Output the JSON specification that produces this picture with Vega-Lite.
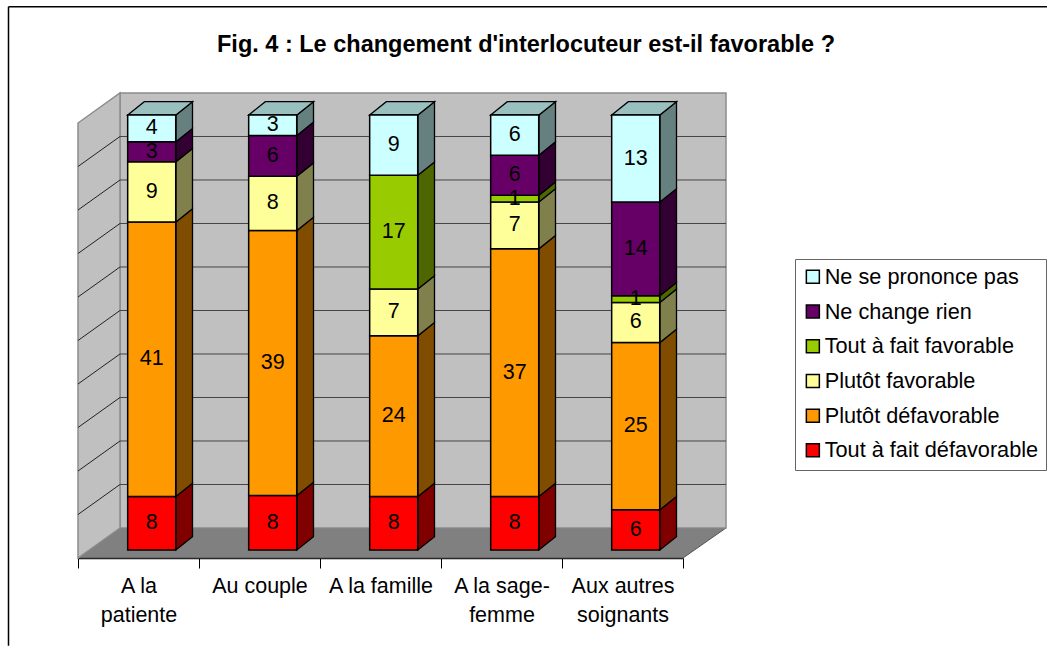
{"$schema":"https://vega.github.io/schema/vega-lite/v6.json","width":648,"height":465,"autosize":"none","padding":{"left":78,"right":321,"top":93,"bottom":88},"background":"white","config":{"view":{"stroke":null},"font":"Liberation Sans"},"title":{"text":"Fig. 4 : Le changement d'interlocuteur est-il favorable ?","font":"Liberation Sans","fontSize":23.5,"fontWeight":"bold","color":"black","anchor":"start","frame":"group","dx":139,"offset":-51},"datasets":{"rep":[{"categorie":"A la patiente","reponse":"Tout à fait défavorable","n":8},{"categorie":"A la patiente","reponse":"Plutôt défavorable","n":41},{"categorie":"A la patiente","reponse":"Plutôt favorable","n":9},{"categorie":"A la patiente","reponse":"Ne change rien","n":3},{"categorie":"A la patiente","reponse":"Ne se prononce pas","n":4},{"categorie":"Au couple","reponse":"Tout à fait défavorable","n":8},{"categorie":"Au couple","reponse":"Plutôt défavorable","n":39},{"categorie":"Au couple","reponse":"Plutôt favorable","n":8},{"categorie":"Au couple","reponse":"Ne change rien","n":6},{"categorie":"Au couple","reponse":"Ne se prononce pas","n":3},{"categorie":"A la famille","reponse":"Tout à fait défavorable","n":8},{"categorie":"A la famille","reponse":"Plutôt défavorable","n":24},{"categorie":"A la famille","reponse":"Plutôt favorable","n":7},{"categorie":"A la famille","reponse":"Tout à fait favorable","n":17},{"categorie":"A la famille","reponse":"Ne se prononce pas","n":9},{"categorie":"A la sage-femme","reponse":"Tout à fait défavorable","n":8},{"categorie":"A la sage-femme","reponse":"Plutôt défavorable","n":37},{"categorie":"A la sage-femme","reponse":"Plutôt favorable","n":7},{"categorie":"A la sage-femme","reponse":"Tout à fait favorable","n":1},{"categorie":"A la sage-femme","reponse":"Ne change rien","n":6},{"categorie":"A la sage-femme","reponse":"Ne se prononce pas","n":6},{"categorie":"Aux autres soignants","reponse":"Tout à fait défavorable","n":6},{"categorie":"Aux autres soignants","reponse":"Plutôt défavorable","n":25},{"categorie":"Aux autres soignants","reponse":"Plutôt favorable","n":6},{"categorie":"Aux autres soignants","reponse":"Tout à fait favorable","n":1},{"categorie":"Aux autres soignants","reponse":"Ne change rien","n":14},{"categorie":"Aux autres soignants","reponse":"Ne se prononce pas","n":13}],"floor":[{"x":0,"a":-0.0184,"b":-0.0184},{"x":42,"a":-0.0184,"b":0.0506},{"x":605,"a":-0.0184,"b":0.0506},{"x":648,"a":0.0506,"b":0.0506}],"leftwall":[{"x":0,"a":0.9816,"b":-0.0184},{"x":42,"a":1.0506,"b":0.0506}],"grid":[{"g":0.1},{"g":0.2},{"g":0.3},{"g":0.4},{"g":0.5},{"g":0.6},{"g":0.7},{"g":0.8},{"g":0.9}]},"resolve":{"scale":{"x":"independent","fill":"independent"}},"layer":[{"data":{"values":[{"x0":-69.5,"x1":969,"y0":1.249,"y1":1.249},{"x0":-69.5,"x1":-69.5,"y0":1.249,"y1":-0.22}]},"mark":{"type":"rule","color":"black","strokeWidth":1.5,"clip":false},"encoding":{"x":{"field":"x0","type":"quantitative","axis":null,"scale":{"domain":[0,648],"nice":false,"zero":false}},"x2":{"field":"x1"},"y":{"field":"y0","type":"quantitative","axis":null,"scale":{"domain":[-0.0184,1.0506],"nice":false,"zero":false}},"y2":{"field":"y1"}}},{"data":{"name":"floor"},"mark":{"type":"area","fill":"#808080","stroke":"#555555","strokeWidth":1},"encoding":{"x":{"field":"x","type":"quantitative","axis":null,"scale":{"domain":[0,648],"nice":false,"zero":false}},"y":{"field":"a","type":"quantitative","axis":null,"scale":{"domain":[-0.0184,1.0506],"nice":false,"zero":false}},"y2":{"field":"b"}}},{"data":{"values":[{"x0":42,"x1":648,"y0":0.0506,"y1":1.0506}]},"mark":{"type":"rect","fill":"#c0c0c0","stroke":"#8c8c8c","strokeWidth":1.5},"encoding":{"x":{"field":"x0","type":"quantitative","axis":null,"scale":{"domain":[0,648],"nice":false,"zero":false}},"x2":{"field":"x1"},"y":{"field":"y0","type":"quantitative","axis":null,"scale":{"domain":[-0.0184,1.0506],"nice":false,"zero":false}},"y2":{"field":"y1"}}},{"data":{"name":"leftwall"},"mark":{"type":"area","fill":"#c0c0c0","stroke":"#8c8c8c","strokeWidth":1.5},"encoding":{"x":{"field":"x","type":"quantitative","axis":null,"scale":{"domain":[0,648],"nice":false,"zero":false}},"y":{"field":"a","type":"quantitative","axis":null,"scale":{"domain":[-0.0184,1.0506],"nice":false,"zero":false}},"y2":{"field":"b"}}},{"data":{"name":"grid"},"transform":[{"calculate":"datum.g+0.0506","as":"back"},{"calculate":"datum.g-0.0184","as":"front"}],"mark":{"type":"rule","color":"#444444","strokeWidth":1},"encoding":{"x":{"datum":42,"type":"quantitative","axis":null,"scale":{"domain":[0,648],"nice":false,"zero":false}},"x2":{"datum":648},"y":{"field":"back","type":"quantitative","axis":null,"scale":{"domain":[-0.0184,1.0506],"nice":false,"zero":false}}}},{"data":{"name":"grid"},"transform":[{"calculate":"datum.g+0.0506","as":"back"},{"calculate":"datum.g-0.0184","as":"front"}],"mark":{"type":"rule","color":"#222222","strokeWidth":1},"encoding":{"x":{"datum":0,"type":"quantitative","axis":null,"scale":{"domain":[0,648],"nice":false,"zero":false}},"x2":{"datum":42},"y":{"field":"front","type":"quantitative","axis":null,"scale":{"domain":[-0.0184,1.0506],"nice":false,"zero":false}},"y2":{"field":"back"}}},{"data":{"name":"rep"},"mark":{"type":"rule","opacity":0},"encoding":{"x":{"field":"categorie","type":"nominal","sort":["A la patiente","Au couple","A la famille","A la sage-femme","Aux autres soignants"],"scale":{"range":[0,605],"padding":0},"axis":{"title":null,"labelAngle":0,"labelFont":"Liberation Sans","labelFontSize":21.5,"labelColor":"black","labelLineHeight":29,"labelPadding":7,"labelLimit":200,"labelBaseline":"top","tickBand":"extent","tickSize":10,"tickColor":"black","domainColor":"black","domainWidth":1.5,"labelExpr":"datum.label=='A la patiente'?['A la','patiente']:datum.label=='A la sage-femme'?['A la sage-','femme']:datum.label=='Aux autres soignants'?['Aux autres','soignants']:datum.label"}}}},{"data":{"name":"rep"},"transform":[{"calculate":"indexof(['Tout à fait défavorable','Plutôt défavorable','Plutôt favorable','Tout à fait favorable','Ne change rien','Ne se prononce pas'],datum.reponse)","as":"rang"},{"calculate":"indexof(['A la patiente','Au couple','A la famille','A la sage-femme','Aux autres soignants'],datum.categorie)","as":"i"},{"stack":"n","groupby":["categorie"],"sort":[{"field":"rang","order":"ascending"}],"offset":"normalize","as":["b0","b1"]},{"calculate":"[0,1]","as":"side"},{"flatten":["side"]},{"calculate":"97.9+121*datum.i+datum.side*16.6","as":"xs"},{"calculate":"datum.b1+datum.side*0.0306","as":"ys"},{"calculate":"datum.b0+datum.side*0.0306","as":"ys0"}],"mark":{"type":"area","stroke":"black","strokeWidth":1.3},"encoding":{"x":{"field":"xs","type":"quantitative","axis":null,"scale":{"domain":[0,648],"nice":false,"zero":false}},"y":{"field":"ys","type":"quantitative","axis":null,"scale":{"domain":[-0.0184,1.0506],"nice":false,"zero":false}},"y2":{"field":"ys0"},"detail":{"field":"categorie"},"fill":{"field":"reponse","type":"nominal","legend":null,"scale":{"domain":["Ne se prononce pas","Ne change rien","Tout à fait favorable","Plutôt favorable","Plutôt défavorable","Tout à fait défavorable"],"range":["#668080","#330033","#4d6600","#80804d","#804d00","#800000"]}}}},{"data":{"name":"rep"},"transform":[{"filter":"datum.reponse=='Ne se prononce pas'"},{"calculate":"indexof(['A la patiente','Au couple','A la famille','A la sage-femme','Aux autres soignants'],datum.categorie)","as":"i"},{"calculate":"[0,1,2,3]","as":"side"},{"flatten":["side"]},{"calculate":"49.7+121*datum.i+[0,16.6,48.2,64.8][datum.side]","as":"xs"},{"calculate":"datum.side==0?1:1.0306","as":"ys"},{"calculate":"datum.side==3?1.0306:1","as":"ys0"}],"mark":{"type":"area","fill":"#99bfbf","stroke":"black","strokeWidth":1.3},"encoding":{"x":{"field":"xs","type":"quantitative","axis":null,"scale":{"domain":[0,648],"nice":false,"zero":false}},"y":{"field":"ys","type":"quantitative","axis":null,"scale":{"domain":[-0.0184,1.0506],"nice":false,"zero":false}},"y2":{"field":"ys0"},"detail":{"field":"categorie"}}},{"data":{"name":"rep"},"transform":[{"calculate":"indexof(['Tout à fait défavorable','Plutôt défavorable','Plutôt favorable','Tout à fait favorable','Ne change rien','Ne se prononce pas'],datum.reponse)","as":"rang"},{"stack":"n","groupby":["categorie"],"sort":[{"field":"rang","order":"ascending"}],"offset":"normalize","as":["b0","b1"]}],"mark":{"type":"bar","stroke":"black","strokeWidth":1.5,"xOffset":13.2},"encoding":{"x":{"field":"categorie","type":"nominal","sort":["A la patiente","Au couple","A la famille","A la sage-femme","Aux autres soignants"],"scale":{"range":[0,605],"paddingInner":0.603,"paddingOuter":0.3015},"axis":null},"y":{"field":"b0","type":"quantitative","axis":null,"scale":{"domain":[-0.0184,1.0506],"nice":false,"zero":false}},"y2":{"field":"b1"},"fill":{"field":"reponse","type":"nominal","scale":{"domain":["Ne se prononce pas","Ne change rien","Tout à fait favorable","Plutôt favorable","Plutôt défavorable","Tout à fait défavorable"],"range":["#ccffff","#660066","#99cc00","#ffff99","#ff9900","#ff0000"]},"legend":{"title":null,"orient":"none","legendX":717,"legendY":166,"labelFont":"Liberation Sans","labelFontSize":21.7,"labelColor":"black","labelOffset":1,"labelLimit":300,"symbolType":"square","symbolSize":169,"symbolStrokeColor":"black","symbolStrokeWidth":1.5,"rowPadding":11.7,"strokeColor":"#666666","padding":7}}}},{"data":{"name":"rep"},"transform":[{"calculate":"indexof(['Tout à fait défavorable','Plutôt défavorable','Plutôt favorable','Tout à fait favorable','Ne change rien','Ne se prononce pas'],datum.reponse)","as":"rang"},{"stack":"n","groupby":["categorie"],"sort":[{"field":"rang","order":"ascending"}],"offset":"normalize","as":["b0","b1"]},{"calculate":"(datum.b0+datum.b1)/2","as":"mid"}],"mark":{"type":"text","font":"Liberation Sans","fontSize":21.5,"color":"black","baseline":"middle","xOffset":13.2},"encoding":{"x":{"field":"categorie","type":"nominal","sort":["A la patiente","Au couple","A la famille","A la sage-femme","Aux autres soignants"],"scale":{"range":[0,605],"paddingInner":0.603,"paddingOuter":0.3015},"axis":null},"y":{"field":"mid","type":"quantitative","axis":null,"scale":{"domain":[-0.0184,1.0506],"nice":false,"zero":false}},"text":{"field":"n","type":"quantitative"}}}]}
